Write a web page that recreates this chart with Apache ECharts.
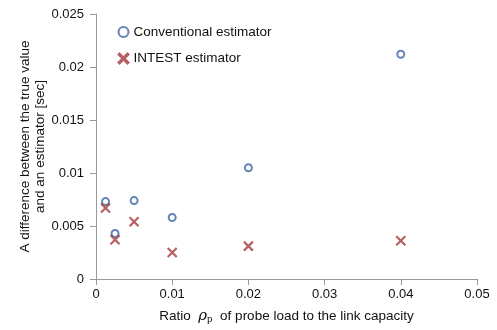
<!DOCTYPE html>
<html>
<head>
<meta charset="utf-8">
<script src="https://cdn.jsdelivr.net/npm/echarts@6/dist/echarts.min.js"></script>
<style>html,body{margin:0;padding:0;background:#fff;}#c{width:497px;height:330px;}</style>
</head>
<body>
<div id="c"></div>
<script>
const ratios = [0.00125, 0.0025, 0.005, 0.01, 0.02, 0.04];
const conventional = [0.0073, 0.0043, 0.0074, 0.0058, 0.0105, 0.0212];
const intest = [0.0067, 0.0037, 0.0054, 0.0025, 0.0031, 0.0036];
const seriesNames = ['Conventional estimator', 'INTEST estimator'];

const FONT = '"Liberation Sans", Arial, Helvetica, sans-serif';
const crossPath = 'path://M0,0 L10,10 M10,0 L0,10';
const crossShape = 'path://M1,0 L5,4 L9,0 L10,1 L6,5 L10,9 L9,10 L5,6 L1,10 L0,9 L4,5 L0,1 Z';

const chart = echarts.init(document.getElementById('c'), null, {renderer: 'canvas'});
chart.setOption({
  animation: false,
  backgroundColor: '#fff',
  textStyle: {fontFamily: FONT},
  grid: {left: 96, right: 20, top: 14, bottom: 49},
  legend: {
    orient: 'vertical',
    left: 111, top: 20,
    itemGap: 12,
    itemWidth: 10, itemHeight: 10,
    textStyle: {fontFamily: FONT, fontSize: 13.5, color: '#111'},
    data: [
      {name: seriesNames[0], icon: 'circle'},
      {name: seriesNames[1], icon: crossShape}
    ]
  },
  xAxis: {
    type: 'value', min: 0, max: 0.05, interval: 0.01,
    splitLine: {show: false},
    axisLine: {lineStyle: {color: '#999', width: 1}},
    axisTick: {show: true, length: 6, lineStyle: {color: '#999'}},
    axisLabel: {color: '#111', fontSize: 13, fontFamily: FONT, margin: 9},
    name: '{t|Ratio  }{rho|ρ}{sub|p}{t|  of probe load to the link capacity}',
    nameLocation: 'middle', nameGap: 29, nameMoveOverlap: false,
    nameTextStyle: {
      rich: {
        t: {fontFamily: FONT, fontSize: 13.5, color: '#111'},
        rho: {fontFamily: '"DejaVu Serif", "Liberation Serif", serif', fontStyle: 'italic', fontSize: 15, color: '#111'},
        sub: {fontFamily: '"Liberation Serif", serif', fontSize: 11, color: '#111', padding: [6, 0, 0, 0]}
      }
    }
  },
  yAxis: {
    type: 'value', min: 0, max: 0.025, interval: 0.005,
    splitLine: {show: false},
    axisLine: {show: true, lineStyle: {color: '#999', width: 1}},
    axisTick: {show: true, length: 6, lineStyle: {color: '#999'}},
    axisLabel: {color: '#111', fontSize: 13, fontFamily: FONT, margin: 12},
    name: 'A difference between the true value\nand an estimator [sec]',
    nameLocation: 'middle', nameGap: 48, nameRotate: 90, nameMoveOverlap: false,
    nameTextStyle: {fontFamily: FONT, fontSize: 13.5, color: '#111', lineHeight: 15}
  },
  series: [
    {
      name: seriesNames[0], type: 'scatter',
      data: ratios.map((x, i) => [x, conventional[i]]),
      symbol: 'circle', symbolSize: 7,
      itemStyle: {color: '#fff', borderColor: '#3b67a5', borderWidth: 2}
    },
    {
      name: seriesNames[1], type: 'scatter',
      data: ratios.map((x, i) => [x, intest[i]]),
      symbol: crossPath, symbolSize: 9,
      itemStyle: {color: 'none', borderColor: '#a33a3a', borderWidth: 2.2}
    }
  ]
});
</script>
</body>
</html>
